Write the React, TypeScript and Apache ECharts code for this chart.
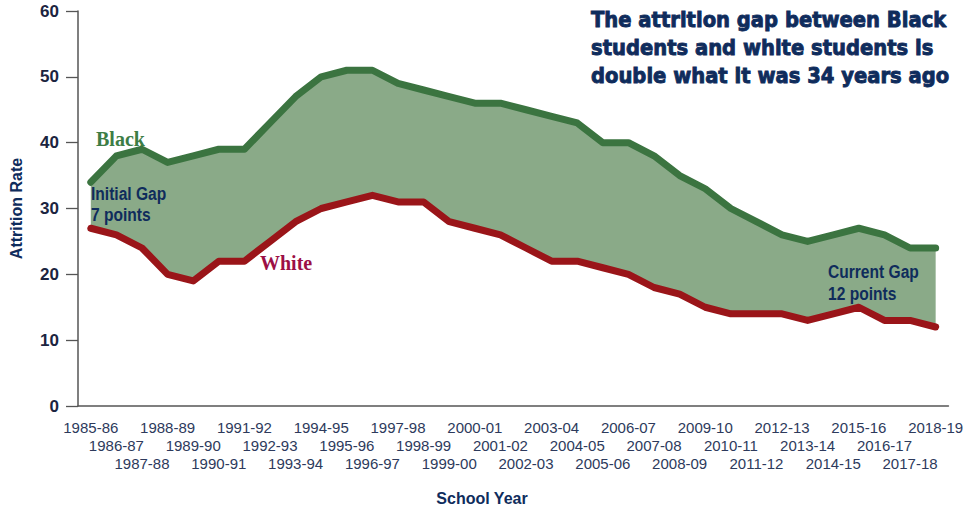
import React, { useEffect, useRef } from "react";
import * as echarts from "echarts";

// School years on the category axis
const schoolYears = [
  "1985-86", "1986-87", "1987-88", "1988-89", "1989-90", "1990-91", "1991-92",
  "1992-93", "1993-94", "1994-95", "1995-96", "1996-97", "1997-98", "1998-99",
  "1999-00", "2000-01", "2001-02", "2002-03", "2003-04", "2004-05", "2005-06",
  "2006-07", "2007-08", "2008-09", "2009-10", "2010-11", "2011-12", "2012-13",
  "2013-14", "2014-15", "2015-16", "2016-17", "2017-18", "2018-19",
];

// Attrition rates (%)
const blackRates = [
  34, 38, 39, 37, 38, 39, 39, 43, 47, 50, 51, 51, 49, 48, 47, 46, 46,
  45, 44, 43, 40, 40, 38, 35, 33, 30, 28, 26, 25, 26, 27, 26, 24, 24,
];
const whiteRates = [
  27, 26, 24, 20, 19, 22, 22, 25, 28, 30, 31, 32, 31, 31, 28, 27, 26,
  24, 22, 22, 21, 20, 18, 17, 15, 14, 14, 14, 13, 14, 15, 13, 13, 12,
];

const yTicks = { min: 0, max: 60, interval: 10 };

const titleLines = [
  "The attrition gap between Black",
  "students and white students is",
  "double what it was 34 years ago",
];

const NAVY = "#0f2c5c";
const GREEN_LINE = "#3b7440";
const RED_LINE = "#9a1519";
const GAP_FILL = "#8aaa88";

export default function App() {
  const ref = useRef<HTMLDivElement>(null);

  useEffect(() => {
    if (!ref.current) return;
    const chart = echarts.init(ref.current, null, { renderer: "svg" });
    const gap = blackRates.map((b, i) => b - whiteRates[i]);

    chart.setOption({
      animation: false,
      grid: { left: 67, right: 16, top: 11, bottom: 104, containLabel: false },
      xAxis: {
        type: "category",
        data: schoolYears,
        boundaryGap: true,
        axisLine: { lineStyle: { color: "#555", width: 1.5 } },
        axisTick: { alignWithLabel: true, length: 11, lineStyle: { color: "#555", width: 1.3 } },
        axisLabel: {
          interval: 0,
          margin: 12,
          fontSize: 15,
          lineHeight: 18,
          color: "#2d3a5c",
          fontFamily: "Liberation Sans, Arial, sans-serif",
          formatter: (v: string, i: number) => "\n".repeat(i % 3) + v,
        },
        splitLine: { show: false },
      },
      yAxis: {
        type: "value",
        min: yTicks.min,
        max: yTicks.max,
        interval: yTicks.interval,
        name: "Attrition Rate",
        nameLocation: "middle",
        nameGap: 54,
        nameTextStyle: {
          fontSize: 16,
          fontWeight: "bold",
          color: NAVY,
          fontFamily: "Liberation Sans, Arial, sans-serif",
        },
        axisLine: { show: true, lineStyle: { color: "#555", width: 1.5 } },
        axisTick: { show: true, length: 12, lineStyle: { color: "#555", width: 1.3 } },
        axisLabel: {
          margin: 19,
          fontSize: 17,
          fontWeight: "bold",
          color: "#1b2440",
          fontFamily: "Liberation Sans, Arial, sans-serif",
        },
        splitLine: { show: false },
      },
      series: [
        {
          name: "base",
          type: "line",
          stack: "gap",
          data: whiteRates,
          symbol: "none",
          silent: true,
          lineStyle: { width: 0, opacity: 0 },
          z: 1,
        },
        {
          name: "gap",
          type: "line",
          stack: "gap",
          data: gap,
          symbol: "none",
          silent: true,
          lineStyle: { width: 0, opacity: 0 },
          areaStyle: { color: GAP_FILL, opacity: 1 },
          z: 1,
        },
        {
          name: "White",
          type: "line",
          data: whiteRates,
          symbol: "none",
          lineStyle: { color: RED_LINE, width: 7, cap: "round", join: "round" },
          z: 3,
        },
        {
          name: "Black",
          type: "line",
          data: blackRates,
          symbol: "none",
          lineStyle: { color: GREEN_LINE, width: 7, cap: "round", join: "round" },
          z: 3,
        },
      ],
      graphic: [
        {
          type: "text",
          x: 591,
          y: 6,
          z: 100,
          scaleX: 0.955,
          style: {
            text: titleLines.join("\n"),
            fontSize: 20.5,
            fontWeight: "bold",
            lineHeight: 28,
            fontFamily: "DejaVu Sans, sans-serif",
            fill: NAVY,
            stroke: NAVY,
            lineWidth: 0.9,
          },
        },
        {
          type: "text",
          x: 96,
          y: 129,
          z: 100,
          style: {
            text: "Black",
            fontSize: 20,
            fontWeight: "bold",
            fontFamily: "Liberation Serif, serif",
            fill: "#3d7d45",
          },
        },
        {
          type: "text",
          x: 260,
          y: 253,
          z: 100,
          style: {
            text: "White",
            fontSize: 20,
            fontWeight: "bold",
            fontFamily: "Liberation Serif, serif",
            fill: "#9c0f45",
          },
        },
        {
          type: "text",
          x: 91,
          y: 183,
          z: 100,
          scaleX: 0.82,
          style: {
            text: "Initial Gap\n7 points",
            fontSize: 19,
            lineHeight: 21,
            fontWeight: "bold",
            fontFamily: "Liberation Sans, Arial, sans-serif",
            fill: NAVY,
          },
        },
        {
          type: "text",
          x: 828,
          y: 260,
          z: 100,
          scaleX: 0.82,
          style: {
            text: "Current Gap\n12 points",
            fontSize: 19,
            lineHeight: 22,
            fontWeight: "bold",
            fontFamily: "Liberation Sans, Arial, sans-serif",
            fill: NAVY,
          },
        },
        {
          type: "text",
          x: 482,
          y: 498,
          z: 100,
          style: {
            text: "School Year",
            fontSize: 16,
            fontWeight: "bold",
            align: "center",
            verticalAlign: "middle",
            fontFamily: "Liberation Sans, Arial, sans-serif",
            fill: NAVY,
          },
        },
      ],
    });

    return () => chart.dispose();
  }, []);

  return (
    <div
      ref={ref}
      style={{ position: "absolute", left: 0, top: 0, width: 966, height: 510 }}
    />
  );
}
